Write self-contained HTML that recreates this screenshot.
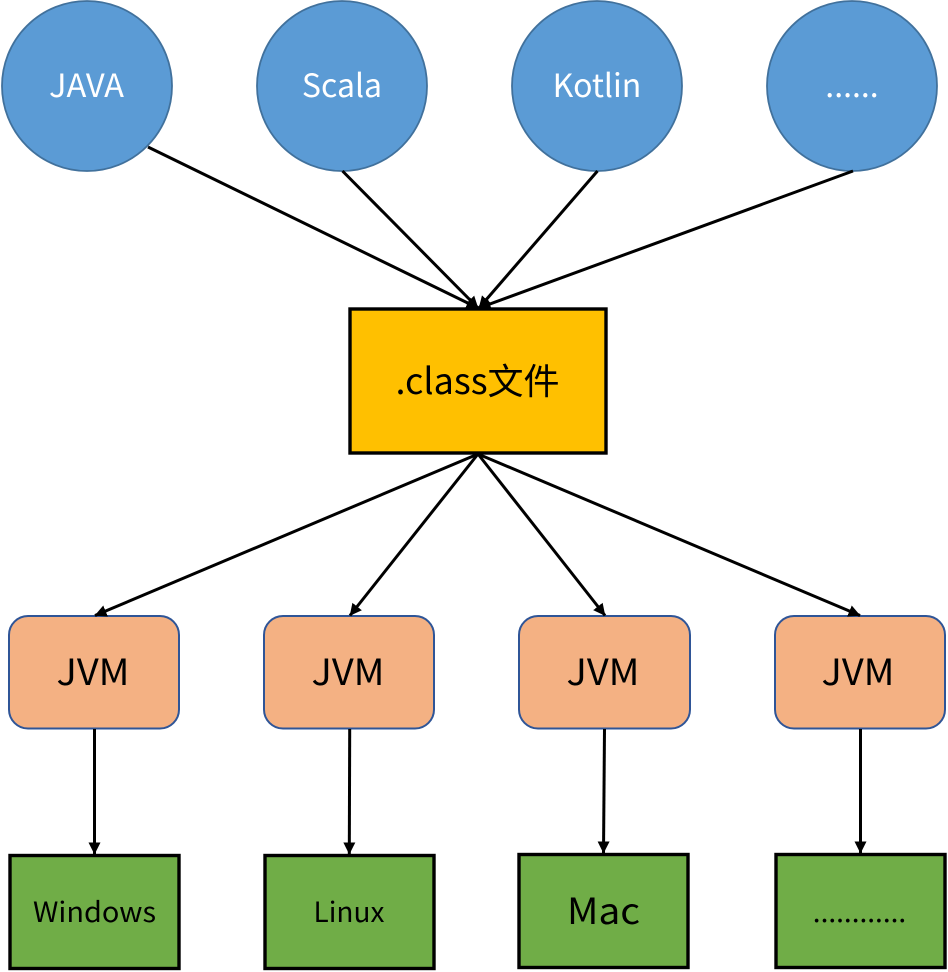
<!DOCTYPE html>
<html>
<head>
<meta charset="utf-8">
<style>
html,body{margin:0;padding:0;background:#fff;width:948px;height:972px;overflow:hidden}
svg{display:block}
text{font-family:"Noto Sans CJK SC","Liberation Sans",sans-serif;text-anchor:middle}
</style>
</head>
<body>
<svg width="948" height="972" viewBox="0 0 948 972" xmlns="http://www.w3.org/2000/svg">
<defs>
<marker id="a" markerUnits="userSpaceOnUse" markerWidth="13" markerHeight="13" refX="11.5" refY="6.5" orient="auto">
<path d="M0 0.5L12 6.5L0 12.5Z" fill="#000"/>
</marker>
</defs>
<g fill="#5B9BD5" stroke="#41719C" stroke-width="1.8">
<circle cx="87" cy="86" r="85"/>
<circle cx="342" cy="86" r="85"/>
<circle cx="597" cy="86" r="85"/>
<circle cx="852" cy="86" r="85"/>
</g>
<rect x="350" y="309" width="256" height="144" fill="#FFC000" stroke="#000" stroke-width="3.4"/>
<g fill="#F4B183" stroke="#2F5597" stroke-width="2">
<rect x="9" y="616" width="170" height="112.5" rx="19"/>
<rect x="264" y="616" width="170" height="112.5" rx="19"/>
<rect x="519" y="616" width="171" height="112.5" rx="19"/>
<rect x="775" y="616" width="170" height="112.5" rx="19"/>
</g>
<g fill="#70AD47" stroke="#000" stroke-width="3.4">
<rect x="10" y="855.5" width="169" height="113"/>
<rect x="265" y="855.5" width="169" height="113"/>
<rect x="519" y="854.5" width="169" height="113"/>
<rect x="776" y="854.5" width="169" height="113"/>
</g>
<g stroke="#000" stroke-width="3" fill="none">
<line x1="148" y1="147" x2="478" y2="308" marker-end="url(#a)"/>
<line x1="342.5" y1="171" x2="478" y2="308" marker-end="url(#a)"/>
<line x1="597.5" y1="171" x2="479" y2="308" marker-end="url(#a)"/>
<line x1="853" y1="171" x2="479" y2="308" marker-end="url(#a)"/>
<line x1="478" y1="454" x2="95" y2="615.5" marker-end="url(#a)"/>
<line x1="478" y1="454" x2="350" y2="615.5" marker-end="url(#a)"/>
<line x1="478" y1="454" x2="605" y2="615.5" marker-end="url(#a)"/>
<line x1="478" y1="454" x2="860" y2="615.5" marker-end="url(#a)"/>
<line x1="94.5" y1="729" x2="94.5" y2="854" marker-end="url(#a)"/>
<line x1="349.7" y1="729" x2="349.3" y2="854" marker-end="url(#a)"/>
<line x1="604.5" y1="729" x2="603.5" y2="853" marker-end="url(#a)"/>
<line x1="860.5" y1="729" x2="860.5" y2="853" marker-end="url(#a)"/>
</g>
<g fill="#fff" font-size="32">
<text x="86.5" y="97" textLength="75" lengthAdjust="spacingAndGlyphs">JAVA</text>
<text x="342" y="97">Scala</text>
<text x="597" y="97">Kotlin</text>
<text x="852" y="97">......</text>
</g>
<g fill="#000">
<text x="477.5" y="394" font-size="36">.class文件</text>
<text x="93" y="685" font-size="36" textLength="73" lengthAdjust="spacingAndGlyphs">JVM</text>
<text x="348" y="685" font-size="36" textLength="73" lengthAdjust="spacingAndGlyphs">JVM</text>
<text x="603" y="685" font-size="36" textLength="73" lengthAdjust="spacingAndGlyphs">JVM</text>
<text x="858" y="685" font-size="36" textLength="73" lengthAdjust="spacingAndGlyphs">JVM</text>
<text x="94.5" y="922" font-size="28" textLength="123" lengthAdjust="spacingAndGlyphs">Windows</text>
<text x="349" y="922" font-size="28">Linux</text>
<text x="603.5" y="924" font-size="36" textLength="73" lengthAdjust="spacingAndGlyphs">Mac</text>
<text x="859.5" y="922" font-size="28">............</text>
</g>
</svg>
</body>
</html>
